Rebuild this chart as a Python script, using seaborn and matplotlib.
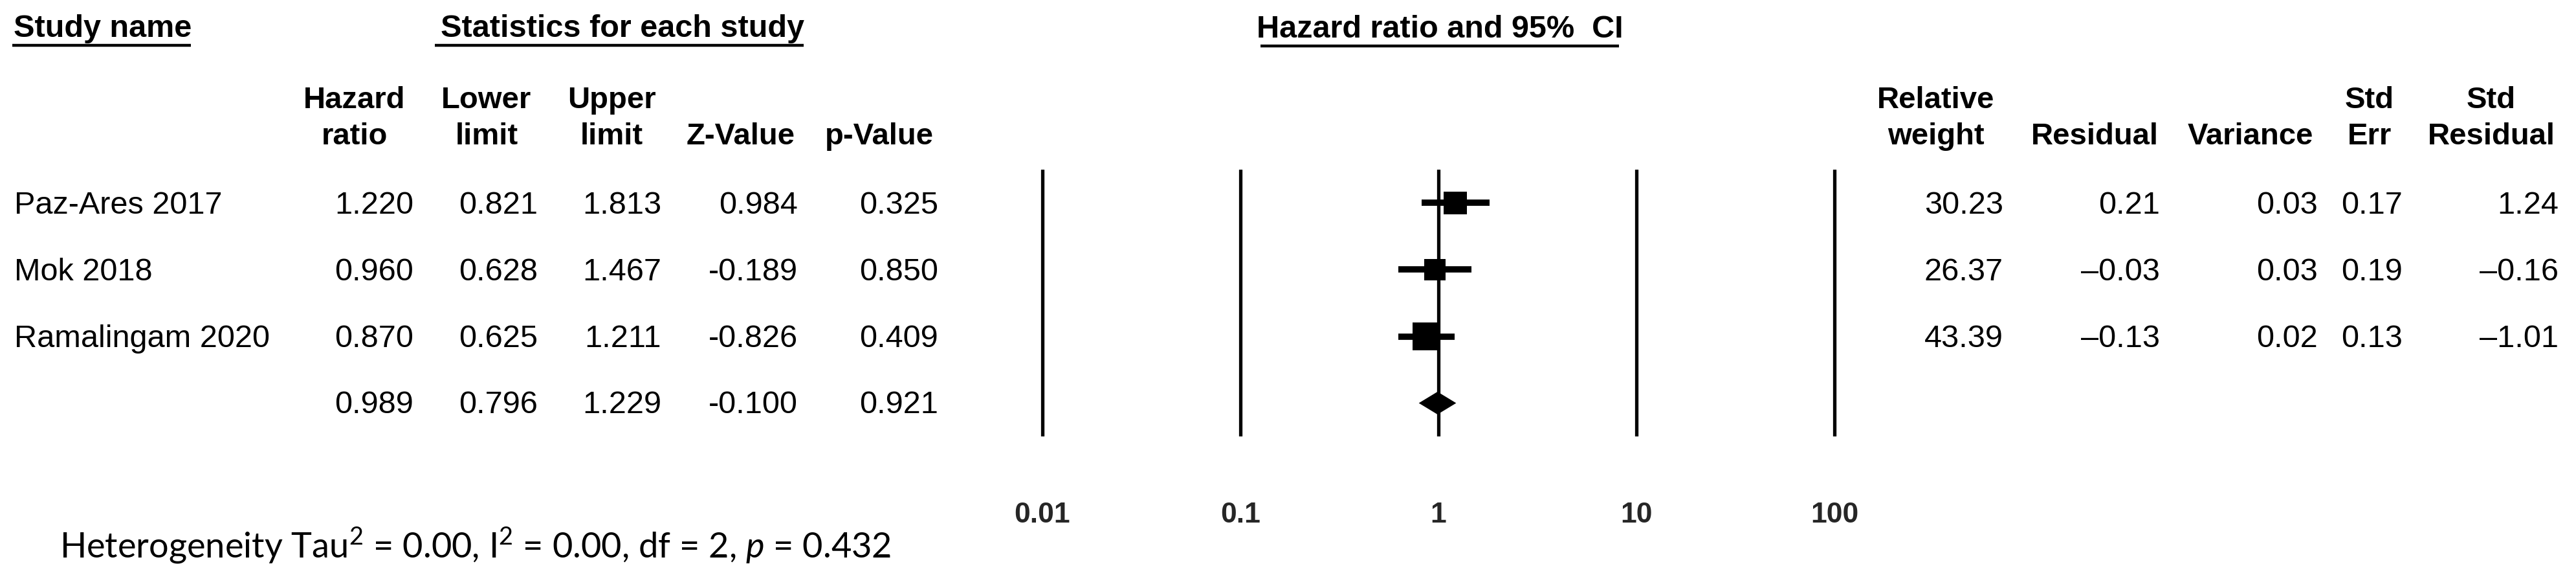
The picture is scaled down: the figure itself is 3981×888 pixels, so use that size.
import matplotlib
matplotlib.use("Agg")
import matplotlib.pyplot as plt
import numpy as np
import pandas as pd
import seaborn as sns

# study level results
studies = ["Paz-Ares 2017", "Mok 2018", "Ramalingam 2020"]
hazard_ratio = [1.220, 0.960, 0.870]
lower_limit = [0.821, 0.628, 0.625]
upper_limit = [1.813, 1.467, 1.211]
z_value = [0.984, -0.189, -0.826]
p_value = [0.325, 0.850, 0.409]

# pooled estimate
pooled = [0.989, 0.796, 1.229, -0.100, 0.921]

# right hand table
relative_weight = [30.23, 26.37, 43.39]
residual = [0.21, -0.03, -0.13]
variance = [0.03, 0.03, 0.02]
std_err = [0.17, 0.19, 0.13]
std_residual = [1.24, -0.16, -1.01]

axis_ticks = [0.01, 0.1, 1, 10, 100]
tick_labels = ["0.01", "0.1", "1", "10", "100"]

heterogeneity = r"Heterogeneity Tau$^2$ = 0.00, I$^2$ = 0.00, df = 2, $p$ = 0.432"

W, H = 3981, 888
sns.set_style("white")
plt.rcParams["font.family"] = ["Liberation Sans", "DejaVu Sans"]
plt.rcParams["mathtext.fontset"] = "custom"
plt.rcParams["mathtext.rm"] = "Lato"
plt.rcParams["mathtext.it"] = "Lato:italic"

fig = plt.figure(figsize=(W / 100, H / 100), dpi=100)
fig.patch.set_facecolor("white")

# pixel canvas for the table text
bg = fig.add_axes([0, 0, 1, 1])
bg.set_xlim(0, W)
bg.set_ylim(H, 0)
bg.axis("off")

BODY = 35
BOLD = 34


def put(x, y, s, ha="left", weight="normal", size=BODY, **kw):
    bg.text(x, y, s, ha=ha, va="baseline", fontsize=size, fontweight=weight,
            color="black", **kw)


def underline(x0, x1, y):
    bg.plot([x0, x1], [y, y], color="black", lw=3.2, solid_capstyle="butt")


# section titles
put(21, 57, "Study name", weight="bold")
underline(19, 295, 70)
put(681, 57, "Statistics for each study", weight="bold")
underline(672, 1242, 70)
put(2225, 58, "Hazard ratio and 95%  CI", ha="center", weight="bold")
underline(1948, 2502, 71)

# column headers
left_cols = [548, 752, 945, 1145, 1359]
left_right = [639, 831, 1022, 1233, 1450]
left_head = [("Hazard", "ratio"), ("Lower", "limit"), ("Upper", "limit"),
             ("", "Z-Value"), ("", "p-Value")]
for cx, (l1, l2) in zip(left_cols, left_head):
    if l1:
        put(cx, 167, l1, ha="center", weight="bold", size=BOLD)
    put(cx, 223, l2, ha="center", weight="bold", size=BOLD)

right_cols = [2992, 3237, 3478, 3662, 3850]
right_right = [3096, 3338, 3582, 3713, 3954]
right_head = [("Relative", "weight"), ("", "Residual"), ("", "Variance"),
              ("Std", "Err"), ("Std", "Residual")]
for cx, (l1, l2) in zip(right_cols, right_head):
    if l1:
        put(cx, 167, l1, ha="center", weight="bold", size=BOLD)
    put(cx, 223, l2, ha="center", weight="bold", size=BOLD)

# table rows
row_base = [330, 433, 536, 638]
left_table = list(zip(hazard_ratio, lower_limit, upper_limit, z_value, p_value))
left_table.append(tuple(pooled))
for i, vals in enumerate(left_table):
    if i < len(studies):
        put(22, row_base[i], studies[i])
    for xr, v in zip(left_right, vals):
        put(xr, row_base[i], f"{v:.3f}", ha="right")

right_table = zip(relative_weight, residual, variance, std_err, std_residual)
for i, vals in enumerate(right_table):
    for xr, v in zip(right_right, vals):
        put(xr, row_base[i], f"{v:.2f}".replace("-", "\u2013"), ha="right")

put(92, 862, heterogeneity, size=39, family="Lato")

# forest plot on a log axis
decade = 306.0
x_one = 2223.0
pad = 0.1
px_lo = x_one - (2 + pad) * decade
px_hi = x_one + (2 + pad) * decade
top, bottom = 262, 674
ax = fig.add_axes([px_lo / W, 1 - bottom / H, (px_hi - px_lo) / W, (bottom - top) / H])
ax.set_xscale("log")
ax.set_xlim(10 ** (-2 - pad), 10 ** (2 + pad))
ax.set_ylim(3.5, -0.5)
ax.patch.set_alpha(0)
for sp in ax.spines.values():
    sp.set_visible(False)
ax.set_yticks([])
ax.set_xticks(axis_ticks)
ax.set_xticklabels(tick_labels, fontsize=32, fontweight="bold")
ax.xaxis.set_minor_locator(matplotlib.ticker.NullLocator())
ax.tick_params(axis="x", length=0, pad=73)
for t in axis_ticks:
    ax.axvline(t, color="black", lw=3.8, zorder=1)

df = pd.DataFrame({
    "row": np.arange(len(studies)),
    "hr": hazard_ratio,
    "lo": lower_limit,
    "hi": upper_limit,
    "weight": relative_weight,
})
ax.hlines(df["row"], df["lo"], df["hi"], color="black", lw=7, zorder=2)
k = 22.2
sns.scatterplot(data=df, x="hr", y="row", size="weight",
                sizes=(k * min(relative_weight), k * max(relative_weight)),
                size_norm=(min(relative_weight), max(relative_weight)),
                marker="s", color="black", linewidth=0, legend=False,
                ax=ax, zorder=3)
ax.set_xlabel("")
ax.set_ylabel("")

# pooled diamond
yd = len(studies)
hh = 0.17
ax.fill([pooled[1], pooled[0], pooled[2], pooled[0]],
        [yd, yd - hh, yd, yd + hh], color="black", lw=0, zorder=3)

fig.savefig("out.png", dpi=100, facecolor="white")
